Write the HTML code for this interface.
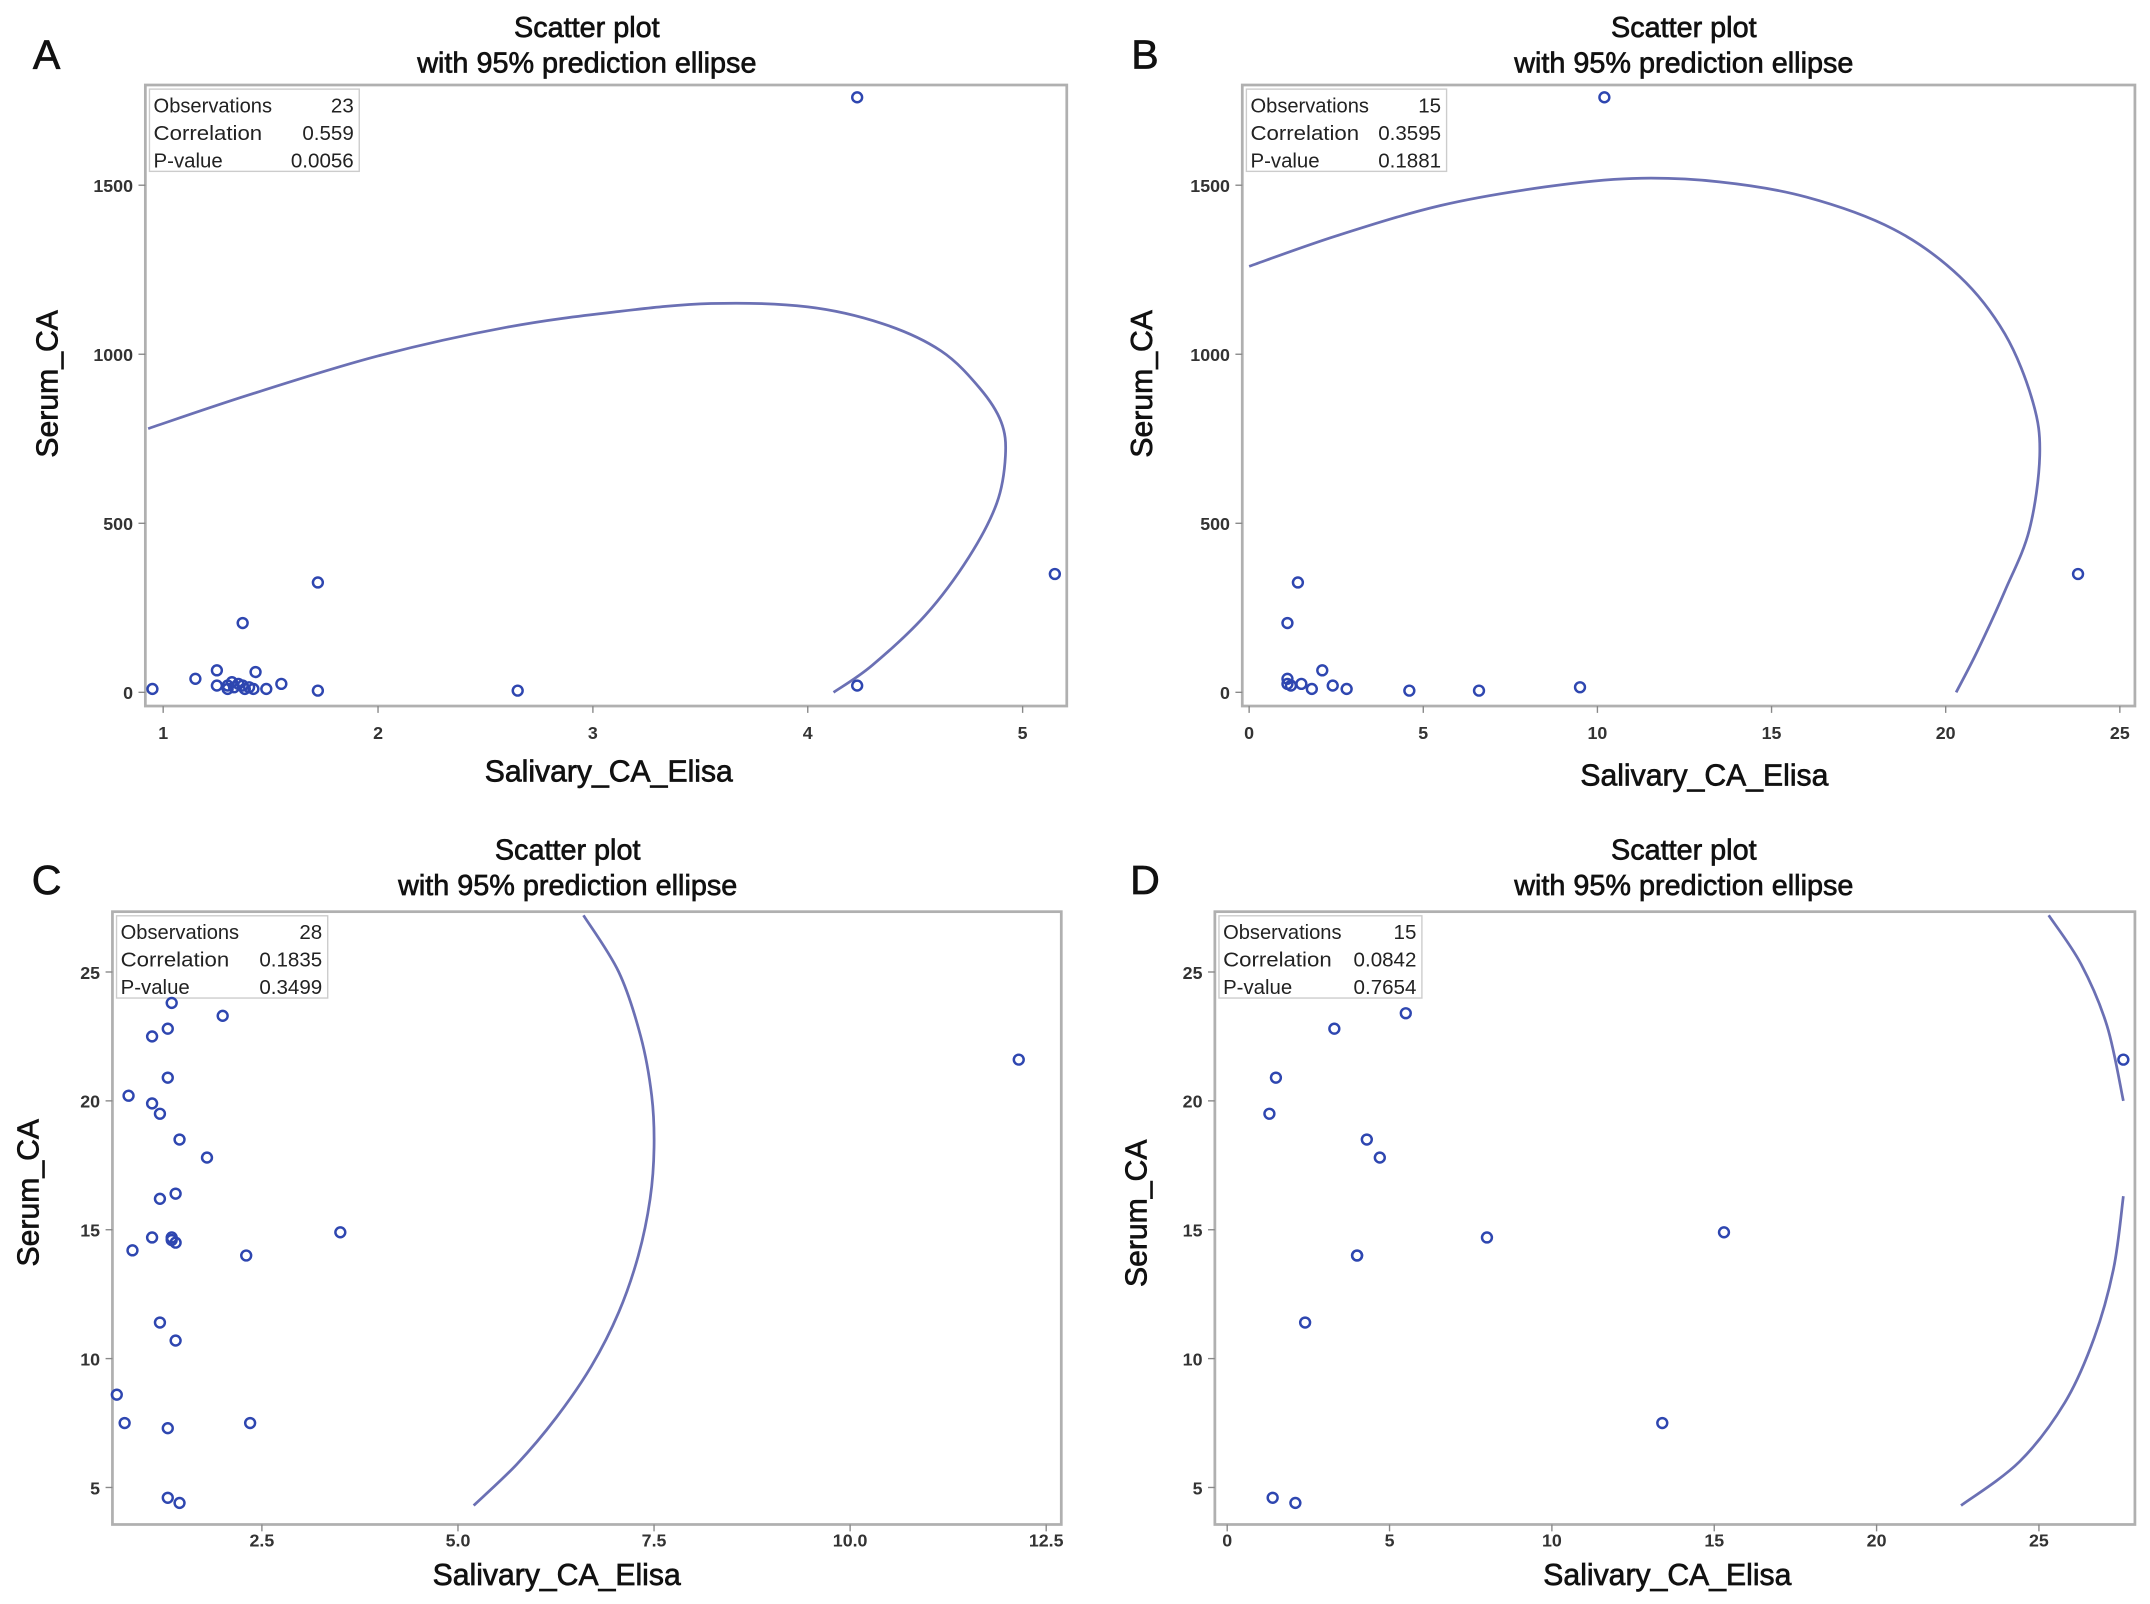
<!DOCTYPE html>
<html><head><meta charset="utf-8"><style>
html,body{margin:0;padding:0;background:#fff;}
svg{display:block;}
text{font-family:"Liberation Sans",Arial,sans-serif;}
</style></head><body>
<svg id="fig" width="2150" height="1604" viewBox="0 0 1568 1170" preserveAspectRatio="none" xmlns="http://www.w3.org/2000/svg"></svg>
<script>
// ---- Panel A data ----
const aX = [0.95,1.15,1.25,1.25,1.3,1.33,1.35,1.37,1.4,1.42,1.43,1.48,1.55,1.37,1.72,1.72,2.65,4.23,4.23,5.15,1.32,1.3,1.38];
const aY = [10,40,65,20,10,15,25,20,15,10,60,10,25,205,325,5,5,1760,20,350,30,20,10];
const aCurveX = [0.93,1.4,2,2.6,3.1,3.55,4,4.35,4.62,4.8,4.9,4.92,4.88,4.75,4.55,4.3,4.12];
const aCurveY = [780,880,995,1080,1125,1150,1140,1090,1010,900,800,700,560,400,230,80,0];
const aXTicks = [1,2,3,4,5];
const aYTicks = [0,500,1000,1500];
const aStats = ["23","0.559","0.0056"];
// ---- Panel B data ----
const bX = [10.2,1.4,1.1,1.1,1.1,1.5,1.8,2.1,2.4,2.8,4.6,6.6,9.5,23.8,1.2];
const bY = [1760,325,205,40,25,25,10,65,20,10,5,5,15,350,20];
const bCurveX = [0,2.5,5.5,8.5,11,13.5,16,18.5,20.4,21.7,22.5,22.7,22.4,21.7,20.9,20.3];
const bCurveY = [1260,1350,1440,1495,1520,1510,1465,1370,1230,1060,860,700,480,300,120,0];
const bXTicks = [0,5,10,15,20,25];
const bYTicks = [0,500,1000,1500];
const bStats = ["15","0.3595","0.1881"];
// ---- Panel C data ----
const cX = [1.35,2.0,1.3,1.1,1.3,0.8,1.1,1.2,1.45,1.8,1.4,1.2,1.1,1.35,1.4,0.85,2.3,3.5,1.2,1.4,0.65,0.75,1.3,2.35,1.3,1.45,12.15,1.35];
const cY = [23.8,23.3,22.8,22.5,20.9,20.2,19.9,19.5,18.5,17.8,16.4,16.2,14.7,14.6,14.5,14.2,14.0,14.9,11.4,10.7,8.6,7.5,7.3,7.5,4.6,4.4,21.6,14.7];
const cCurveX = [6.6,7.05,7.33,7.47,7.5,7.45,7.3,7.05,6.7,6.25,5.75,5.2];
const cCurveY = [27.2,25,22.5,20.2,18.2,16.2,14,11.8,9.7,7.7,5.9,4.3];
const cXTicks = [2.5,5.0,7.5,10.0,12.5];
const cYTicks = [5,10,15,20,25];
const cStats = ["28","0.1835","0.3499"];
// ---- Panel D data ----
const dX = [1.5,1.3,3.3,5.5,4.3,4.7,4.0,8.0,15.3,2.4,13.4,1.4,2.1,27.6,4.0];
const dY = [20.9,19.5,22.8,23.4,18.5,17.8,14.0,14.7,14.9,11.4,7.5,4.6,4.4,21.6,14.0];
const dCurveUpX = [25.3,26.3,27.1,27.6];
const dCurveUpY = [27.2,25.3,22.9,20.0];
const dCurveLoX = [27.6,27.3,26.7,25.8,24.4,22.6];
const dCurveLoY = [16.3,13.5,10.8,8.3,6.0,4.3];
const dXTicks = [0,5,10,15,20,25];
const dYTicks = [5,10,15,20,25];
const dStats = ["15","0.0842","0.7654"];

const NS="http://www.w3.org/2000/svg";
const svg=document.getElementById('fig');
function mk(tag,attrs,parent){const e=document.createElementNS(NS,tag);for(const k in attrs)e.setAttribute(k,attrs[k]);(parent||svg).appendChild(e);return e;}
function smooth(pts){let d="M"+pts[0][0]+","+pts[0][1];for(let i=0;i<pts.length-1;i++){const p0=pts[i-1]||pts[i],p1=pts[i],p2=pts[i+1],p3=pts[i+2]||p2;const c1=[p1[0]+(p2[0]-p0[0])/6,p1[1]+(p2[1]-p0[1])/6],c2=[p2[0]-(p3[0]-p1[0])/6,p2[1]-(p3[1]-p1[1])/6];d+=" C"+c1[0]+","+c1[1]+" "+c2[0]+","+c2[1]+" "+p2[0]+","+p2[1];}return d;}

function panel(cfg){
  const g=mk('g',{});
  
  
  const sx=v=>cfg.px0+(v-cfg.vx0)*cfg.pxs, sy=v=>cfg.py0-(v-cfg.vy0)*cfg.pys;
  const lab=mk('text',{x:cfg.L[0],y:cfg.L[1],'font-size':30,'text-anchor':'middle',fill:'#111',stroke:'#111','stroke-width':0.5},g);lab.textContent=cfg.id.toUpperCase();
  
  
  const t1=mk('text',{x:cfg.tc,y:cfg.ty,'font-size':21,'text-anchor':'middle',fill:'#111',stroke:'#111','stroke-width':0.5},g);t1.textContent="Scatter plot";
  
  
  const t2=mk('text',{x:cfg.tc,y:cfg.ty+26,'font-size':21,'text-anchor':'middle',fill:'#111',stroke:'#111','stroke-width':0.5},g);t2.textContent="with 95% prediction ellipse";
  
  
  const fr=mk('rect',{x:cfg.f[0],y:cfg.f[1],width:cfg.f[2]-cfg.f[0],height:cfg.f[3]-cfg.f[1],fill:'none',stroke:'#b0b0b0','stroke-width':2},g);
  
  
  cfg.xt.forEach(v=>{const x=sx(v);mk('line',{x1:x,x2:x,y1:cfg.f[3],y2:cfg.f[3]+5,stroke:'#888'},g);
    const t=mk('text',{x:x,y:cfg.f[3]+cfg.xto,'font-size':13,'font-weight':'bold','text-anchor':'middle',fill:'#333'},g);t.textContent=cfg.xfmt?v.toFixed(1):v;
    
    });
  cfg.yt.forEach(v=>{const y=sy(v);mk('line',{x1:cfg.f[0]-5,x2:cfg.f[0],y1:y,y2:y,stroke:'#888'},g);
    const t=mk('text',{x:cfg.f[0]-9,y:y+5,'font-size':13,'font-weight':'bold','text-anchor':'end',fill:'#333'},g);t.textContent=v;
    
    });
  const xl=mk('text',{x:cfg.xlc,y:cfg.f[3]+cfg.xlo,'font-size':22,'text-anchor':'middle',fill:'#111',stroke:'#111','stroke-width':0.5},g);xl.textContent="Salivary_CA_Elisa";
  
  
  const yc=cfg.ylc;
  const yl=mk('text',{x:cfg.ylx,y:yc,'font-size':22,'text-anchor':'middle',fill:'#111',stroke:'#111','stroke-width':0.5,transform:'rotate(-90 '+cfg.ylx+' '+yc+')'},g);yl.textContent="Serum_CA";
  
  
  const sb=mk('g',{},g);
  
  
  mk('rect',{x:cfg.f[0]+3,y:cfg.f[1]+3,width:cfg.sbw,height:60,fill:'#fff',stroke:'#ccc'},sb);
  ["Observations","Correlation","P-value"].forEach((n,i)=>{
    const a=mk('text',{x:cfg.f[0]+6,y:cfg.f[1]+20+i*20,'font-size':15,fill:'#222',textLength:n.length*7.2,lengthAdjust:'spacingAndGlyphs'},sb);a.textContent=n;
    const b=mk('text',{x:cfg.f[0]+cfg.sbw-1,y:cfg.f[1]+20+i*20,'font-size':15,'text-anchor':'end',fill:'#222'},sb);b.textContent=cfg.stats[i];});
  cfg.curves.forEach(c=>{const pts=c[0].map((v,i)=>[sx(v),sy(c[1][i])]);
    const p=mk('path',{d:smooth(pts),fill:'none',stroke:'#6b70b4','stroke-width':2},g);
    
    });
  cfg.x.forEach((v,i)=>{const c=mk('circle',{cx:sx(v),cy:sy(cfg.y[i]),r:3.6,fill:'none',stroke:'#2e46b0','stroke-width':1.8},g);
    
    });
}
panel({id:'a',L:[34,50],tc:428,ty:27,f:[106,62,778,515],px0:119,vx0:1,pxs:156.7,py0:505,vy0:0,pys:123.3/500,xt:aXTicks,yt:aYTicks,x:aX,y:aY,curves:[[aCurveX,aCurveY]],stats:aStats,sbw:153,ylx:42,ylc:280,xlc:444,xlo:55,xto:24});
panel({id:'b',L:[835,50],tc:1228,ty:27,f:[906,62,1557,515],px0:911,vx0:0,pxs:127/5,py0:505,vy0:0,pys:123.3/500,xt:bXTicks,yt:bYTicks,x:bX,y:bY,curves:[[bCurveX,bCurveY]],stats:bStats,sbw:146,ylx:840,ylc:280,xlc:1243,xlo:58,xto:24});
panel({id:'c',L:[34,652],tc:414,ty:627,f:[82,665,774,1112],px0:191,vx0:2.5,pxs:143/2.5,py0:1085,vy0:5,pys:94/5,xt:cXTicks,yt:cYTicks,x:cX,y:cY,curves:[[cCurveX,cCurveY]],stats:cStats,sbw:154,xfmt:true,ylx:28,ylc:870,xlc:406,xlo:44,xto:16});
panel({id:'d',L:[835,652],tc:1228,ty:627,f:[886,665,1557,1112],px0:895,vx0:0,pxs:118.4/5,py0:1085,vy0:5,pys:94/5,xt:dXTicks,yt:dYTicks,x:dX,y:dY,curves:[[dCurveUpX,dCurveUpY],[dCurveLoX,dCurveLoY]],stats:dStats,sbw:148,ylx:836,ylc:885,xlc:1216,xlo:44,xto:16});
</script>
</body></html>
